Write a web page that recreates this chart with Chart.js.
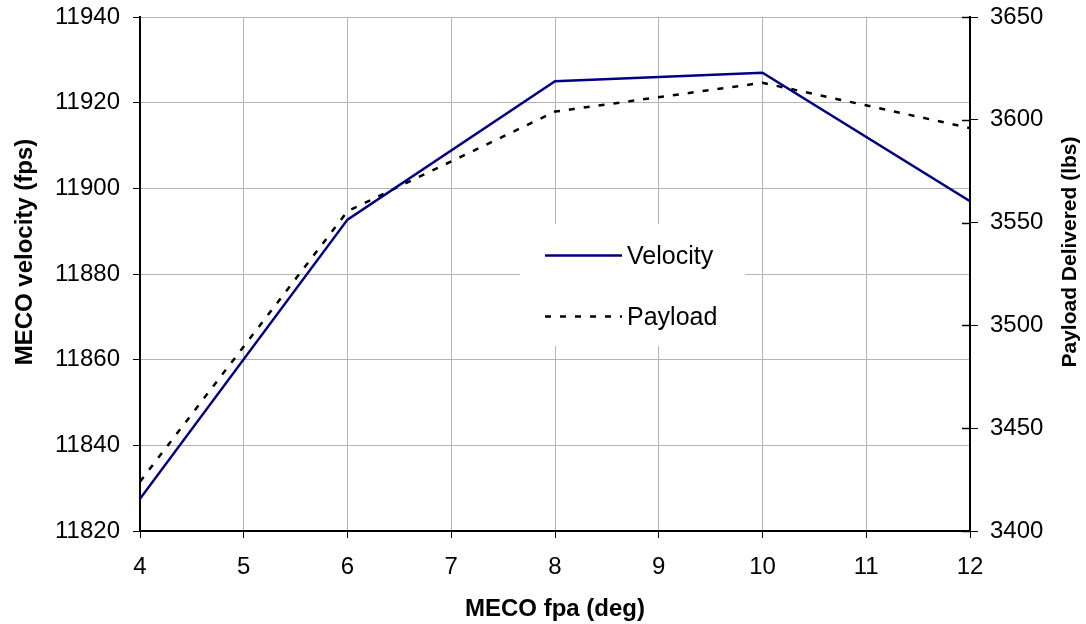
<!DOCTYPE html>
<html>
<head>
<meta charset="utf-8">
<script src="https://cdn.jsdelivr.net/npm/chart.js@4.4.0/dist/chart.umd.min.js"></script>
<style>
  html, body { margin: 0; padding: 0; background: #fff; }
  #chart { display: block; }
</style>
</head>
<body>
<canvas id="chart" width="1086" height="624"></canvas>
<script>
const fpa = [4, 6, 8, 10, 12];
const velocity = [11827.5, 11892.7, 11925, 11927, 11897];
const payload = [3424, 3555.5, 3604, 3618, 3596];

const fpaRange = [4, 12];
const velocityRange = [11820, 11940];
const payloadRange = [3400, 3650];

const seriesNames = ['Velocity', 'Payload'];
const axisTitles = {
    x: 'MECO fpa (deg)',
    y: 'MECO velocity (fps)',
    y1: 'Payload Delivered (lbs)',
};

const FONT = "'Liberation Sans', Arial, sans-serif";
const NAVY = '#000080';
const GRID = '#b4b4b4';

function points(xs, ys) {
    return xs.map((x, i) => ({ x: x, y: ys[i] }));
}

const plain = (v) => String(v);

// fixed box sizes so the plot area lands where the original has it
function fitVertical(width) {
    return (s) => {
        s.width = width;
        s.paddingTop = 0;
        s.paddingBottom = 0;
    };
}

// legend box, y axis titles and inner half of right ticks
const extras = {
    id: 'extras',
    afterDatasetsDraw(chart) {
        const ctx = chart.ctx;
        const area = chart.chartArea;
        const y1 = chart.scales.y1;
        ctx.save();

        // right axis ticks cross the axis
        ctx.strokeStyle = '#000';
        ctx.lineWidth = 1.5;
        y1.ticks.forEach((t) => {
            const py = Math.round(y1.getPixelForValue(t.value)) + 0.5;
            ctx.beginPath();
            ctx.moveTo(area.right - 8, py);
            ctx.lineTo(area.right, py);
            ctx.stroke();
        });

        // legend
        const lx = 520, ly = 224, lw = 225, lh = 122;
        ctx.fillStyle = '#fff';
        ctx.fillRect(lx, ly, lw, lh);
        ctx.font = '25px ' + FONT;
        ctx.textBaseline = 'middle';
        ctx.textAlign = 'left';
        ctx.fillStyle = '#000';

        ctx.lineWidth = 2.5;
        ctx.strokeStyle = NAVY;
        ctx.setLineDash([]);
        ctx.beginPath();
        ctx.moveTo(545, 255.5);
        ctx.lineTo(622, 255.5);
        ctx.stroke();
        ctx.fillText(seriesNames[0], 627, 257);

        ctx.strokeStyle = '#000';
        ctx.setLineDash([6, 9]);
        ctx.beginPath();
        ctx.moveTo(545, 316.5);
        ctx.lineTo(622, 316.5);
        ctx.stroke();
        ctx.setLineDash([]);
        ctx.fillText(seriesNames[1], 627, 318);

        // vertical axis titles, both reading bottom to top
        ctx.font = 'bold 24px ' + FONT;
        ctx.textAlign = 'center';
        ctx.translate(25, 252);
        ctx.rotate(-Math.PI / 2);
        ctx.fillText(axisTitles.y, 0, 0);
        ctx.restore();

        ctx.save();
        ctx.font = 'bold 21px ' + FONT;
        ctx.fillStyle = '#000';
        ctx.textAlign = 'center';
        ctx.textBaseline = 'middle';
        ctx.translate(1070, 252);
        ctx.rotate(-Math.PI / 2);
        ctx.fillText(axisTitles.y1, 0, 0);
        ctx.restore();
    }
};

new Chart(document.getElementById('chart'), {
    type: 'line',
    data: {
        datasets: [
            {
                label: seriesNames[0],
                data: points(fpa, velocity),
                yAxisID: 'y',
                borderColor: NAVY,
                borderWidth: 2.5,
                pointRadius: 0,
                tension: 0,
            },
            {
                label: seriesNames[1],
                data: points(fpa, payload),
                yAxisID: 'y1',
                borderColor: '#000',
                borderWidth: 2.5,
                borderDash: [6, 9],
                pointRadius: 0,
                tension: 0,
            },
        ]
    },
    options: {
        responsive: false,
        animation: false,
        devicePixelRatio: 1,
        layout: { padding: { top: 17 } },
        scales: {
            x: {
                type: 'linear',
                min: fpaRange[0],
                max: fpaRange[1],
                afterFit: (s) => {
                    s.height = 93;
                    s.paddingLeft = 0;
                    s.paddingRight = 0;
                },
                ticks: {
                    stepSize: 1,
                    color: '#000',
                    padding: 15,
                    callback: plain,
                    font: { family: FONT, size: 24 },
                },
                grid: { color: GRID, tickColor: '#000', tickLength: 7, lineWidth: 1 },
                border: { color: '#000', width: 2 },
                title: {
                    display: true,
                    text: axisTitles.x,
                    color: '#000',
                    font: { family: FONT, size: 24, weight: 'bold' },
                    padding: { top: 0, bottom: 0 },
                },
            },
            y: {
                position: 'left',
                min: velocityRange[0],
                max: velocityRange[1],
                afterFit: fitVertical(140),
                ticks: {
                    stepSize: 20,
                    color: '#000',
                    padding: 13,
                    callback: plain,
                    font: { family: FONT, size: 24 },
                },
                grid: { color: GRID, tickColor: '#000', tickLength: 7, lineWidth: 1 },
                border: { color: '#000', width: 2 },
            },
            y1: {
                position: 'right',
                min: payloadRange[0],
                max: payloadRange[1],
                afterFit: fitVertical(116),
                ticks: {
                    stepSize: 50,
                    color: '#000',
                    padding: 12,
                    callback: plain,
                    font: { family: FONT, size: 24 },
                },
                grid: { drawOnChartArea: false, tickColor: '#000', tickLength: 8 },
                border: { color: '#000', width: 2 },
            },
        },
        plugins: {
            legend: { display: false },
            tooltip: { enabled: false },
        }
    },
    plugins: [extras]
});
</script>
</body>
</html>
